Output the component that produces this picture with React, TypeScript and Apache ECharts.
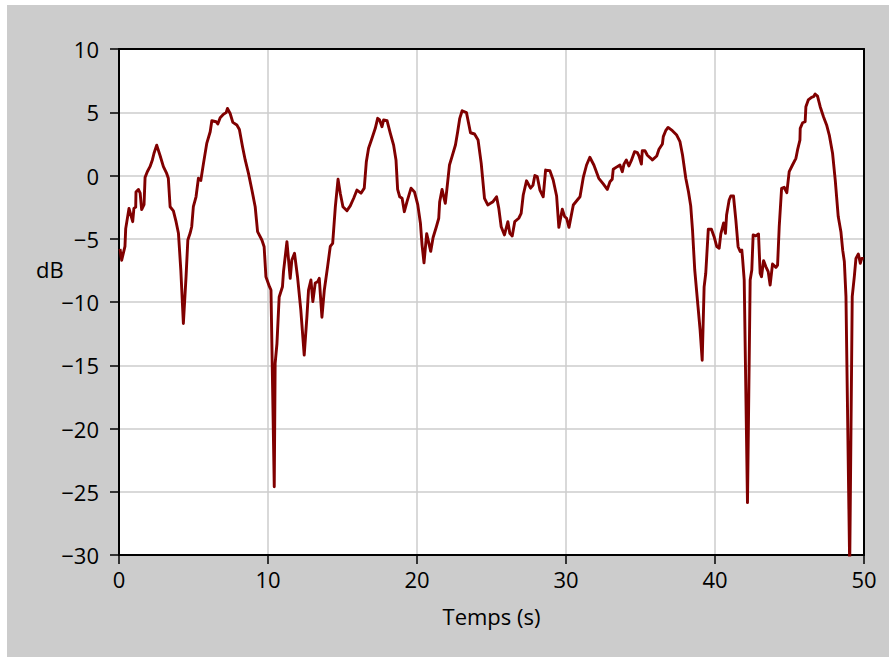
import React, { useEffect, useRef } from "react";
import * as echarts from "echarts";

const times: number[] = [
  0.07, 0.18, 0.4, 0.45, 0.67, 0.92, 1.0, 1.12, 1.14, 1.3, 1.42, 1.52, 1.68, 1.75, 1.9, 2.08, 2.24, 2.35, 2.53, 2.75,
  2.98, 3.2, 3.31, 3.43, 3.65, 3.83, 3.99, 4.15, 4.32, 4.5, 4.62, 4.77, 4.88, 4.99, 5.17, 5.33, 5.49, 5.67, 5.89, 6.12,
  6.23, 6.52, 6.63, 6.79, 7.01, 7.19, 7.28, 7.46, 7.64, 7.91, 8.08, 8.29, 8.47, 8.69, 8.92, 9.14, 9.3, 9.59, 9.74, 9.86,
  10.1, 10.2, 10.42, 10.48, 10.6, 10.75, 10.97, 11.04, 11.27, 11.49, 11.6, 11.78, 11.98, 12.2, 12.43, 12.61, 12.72, 12.88, 13.01, 13.17,
  13.33, 13.44, 13.62, 13.78, 14.0, 14.18, 14.34, 14.52, 14.7, 14.85, 15.03, 15.3, 15.52, 15.75, 15.97, 16.24, 16.46, 16.6, 16.75, 16.98,
  17.2, 17.36, 17.49, 17.65, 17.76, 17.99, 18.21, 18.43, 18.59, 18.7, 18.84, 19.0, 19.15, 19.33, 19.6, 19.83, 20.05, 20.23, 20.34, 20.47,
  20.65, 20.92, 21.08, 21.3, 21.46, 21.52, 21.68, 21.9, 22.0, 22.18, 22.35, 22.58, 22.73, 22.87, 23.03, 23.32, 23.59, 23.86, 24.1, 24.31,
  24.53, 24.75, 24.93, 25.1, 25.34, 25.49, 25.65, 25.87, 26.1, 26.23, 26.39, 26.56, 26.83, 26.99, 27.13, 27.35, 27.62, 27.78, 27.91, 28.07,
  28.25, 28.47, 28.63, 28.92, 29.14, 29.37, 29.52, 29.75, 29.91, 30.04, 30.2, 30.49, 30.76, 30.94, 31.16, 31.38, 31.6, 31.87, 32.2, 32.5,
  32.77, 32.95, 33.1, 33.17, 33.44, 33.62, 33.78, 33.89, 34.05, 34.22, 34.38, 34.6, 34.79, 34.9, 35.06, 35.12, 35.3, 35.46, 35.69, 35.8,
  36.09, 36.24, 36.47, 36.53, 36.69, 36.85, 37.14, 37.43, 37.65, 37.82, 38.04, 38.22, 38.37, 38.49, 38.64, 38.86, 39.0, 39.14, 39.27, 39.38,
  39.55, 39.76, 39.94, 40.12, 40.28, 40.39, 40.58, 40.7, 40.78, 40.95, 41.06, 41.24, 41.4, 41.55, 41.69, 41.8, 41.85, 41.96, 42.18, 42.36,
  42.47, 42.56, 42.74, 42.92, 43.03, 43.12, 43.26, 43.41, 43.57, 43.7, 43.86, 44.09, 44.2, 44.31, 44.47, 44.64, 44.82, 44.98, 45.2, 45.43,
  45.54, 45.7, 45.72, 45.88, 46.05, 46.1, 46.26, 46.48, 46.61, 46.72, 46.88, 47.06, 47.28, 47.49, 47.67, 47.89, 48.07, 48.27, 48.45, 48.57,
  48.68, 48.79, 49.04, 49.21, 49.35, 49.46, 49.62, 49.75, 49.85, 49.98,
];

const dB: number[] = [
  -5.8, -6.7, -5.6, -4.2, -2.6, -3.65, -2.6, -2.5, -1.3, -1.1, -1.4, -2.7, -2.3, -0.15, 0.3, 0.7, 1.23, 1.76, 2.4, 1.6,
  0.7, 0.16, -0.22, -2.47, -2.8, -3.65, -4.57, -7.5, -11.7, -8.0, -5.1, -4.57, -4.05, -2.47, -1.68, -0.22, -0.4, 0.96, 2.54, 3.46,
  4.33, 4.25, 4.07, 4.57, 4.84, 4.97, 5.3, 4.9, 4.2, 3.99, 3.64, 2.28, 1.23, 0.17, -1.15, -2.47, -4.44, -5.1, -5.63, -8.0,
  -8.79, -9.05, -24.6, -14.85, -13.3, -9.6, -8.8, -7.6, -5.23, -8.13, -6.68, -6.15, -8.0, -10.6, -14.2, -11.2, -9.05, -8.26, -9.97, -8.5,
  -8.4, -8.13, -11.2, -9.05, -7.2, -5.6, -5.36, -2.46, -0.3, -1.4, -2.47, -2.78, -2.4, -1.8, -1.15, -1.4, -1.0, 1.09, 2.15, 2.94,
  3.73, 4.52, 4.39, 3.86, 4.39, 4.33, 3.33, 2.4, 1.23, -1.1, -1.68, -1.8, -2.86, -2.07, -1.0, -1.3, -2.3, -3.78, -5.5, -6.9,
  -4.6, -6.0, -4.9, -4.05, -3.38, -2.1, -1.1, -2.2, -1.15, 0.83, 1.49, 2.41, 3.46, 4.52, 5.12, 4.97, 3.38, 3.28, 2.8, 0.96,
  -1.8, -2.33, -2.2, -2.07, -1.68, -2.6, -4.05, -4.7, -3.65, -4.57, -4.78, -3.65, -3.38, -3.0, -1.54, -0.42, -1.0, -0.78, 0.0, -0.08,
  -1.15, -1.68, 0.43, 0.38, -0.36, -1.62, -4.1, -2.67, -3.25, -3.38, -4.1, -2.33, -1.94, -1.68, -0.15, 0.83, 1.44, 0.83, -0.22, -0.67,
  -1.1, -0.5, -0.3, 0.49, 0.7, 0.83, 0.3, 0.9, 1.23, 0.75, 1.17, 1.88, 1.8, 1.54, 0.9, 1.96, 1.96, 1.6, 1.36, 1.23,
  1.54, 2.07, 2.49, 3.07, 3.54, 3.8, 3.54, 3.2, 2.67, 1.62, -0.22, -1.28, -2.4, -4.3, -7.47, -10.37, -12.2, -14.6, -8.8, -7.73,
  -4.25, -4.25, -4.84, -5.62, -5.75, -4.62, -3.75, -4.57, -3.1, -1.94, -1.62, -1.62, -3.52, -5.63, -6.0, -5.9, -6.55, -8.26, -25.86, -8.26,
  -7.47, -4.7, -4.78, -4.62, -7.73, -8.0, -6.73, -7.2, -7.6, -8.66, -7.0, -7.26, -7.08, -4.05, -1.01, -0.93, -1.36, 0.3, 0.83, 1.36,
  2.02, 2.8, 3.73, 4.17, 4.25, 5.44, 5.97, 6.18, 6.23, 6.44, 6.28, 5.44, 4.65, 4.0, 3.2, 1.76, -0.36, -3.25, -4.44, -5.9,
  -6.8, -9.58, -31, -9.58, -8.0, -6.55, -6.2, -6.94, -6.55, -6.55,
];

const xTicks = { min: 0, max: 50, interval: 10 };
const yTicks = { min: -30, max: 10, interval: 5 };
const xName = "Temps (s)";
const yName = "dB";

const FONT = "'Open Sans', 'Noto Sans', sans-serif";

export default function App() {
  const ref = useRef<HTMLDivElement>(null);

  useEffect(() => {
    if (!ref.current) return;
    const chart = echarts.init(ref.current, undefined, { renderer: "svg" });
    const labelStyle = { fontSize: 22, color: "#000", fontFamily: FONT };
    chart.setOption({
      animation: false,
      backgroundColor: "transparent",
      grid: { left: 119, right: 25, top: 49, bottom: 102, containLabel: false },
      xAxis: [
        {
          type: "value",
          position: "bottom",
          min: xTicks.min,
          max: xTicks.max,
          interval: xTicks.interval,
          name: xName,
          nameLocation: "middle",
          nameGap: 50,
          nameTextStyle: { ...labelStyle },
          axisLine: { show: true, onZero: false, lineStyle: { color: "#000", width: 2 } },
          axisTick: { show: true, inside: false, length: 9, lineStyle: { color: "#000", width: 1.5 } },
          axisLabel: { ...labelStyle, margin: 13 },
          splitLine: { show: true, lineStyle: { color: "#cccccc", width: 1.5 } },
        },
        {
          type: "value",
          position: "top",
          min: xTicks.min,
          max: xTicks.max,
          axisLine: { show: true, onZero: false, lineStyle: { color: "#000", width: 2 } },
          axisTick: { show: false },
          axisLabel: { show: false },
          splitLine: { show: false },
        },
      ],
      yAxis: [
        {
          type: "value",
          position: "left",
          min: yTicks.min,
          max: yTicks.max,
          interval: yTicks.interval,
          axisLine: { show: true, onZero: false, lineStyle: { color: "#000", width: 2 } },
          axisTick: { show: true, inside: false, length: 9, lineStyle: { color: "#000", width: 1.5 } },
          axisLabel: {
            ...labelStyle,
            margin: 20,
            formatter: (v: number) => String(v).replace("-", "\u2212"),
          },
          splitLine: { show: true, lineStyle: { color: "#cccccc", width: 1.5 } },
        },
        {
          type: "value",
          position: "right",
          min: yTicks.min,
          max: yTicks.max,
          axisLine: { show: true, onZero: false, lineStyle: { color: "#000", width: 2 } },
          axisTick: { show: false },
          axisLabel: { show: false },
          splitLine: { show: false },
        },
      ],
      graphic: [
        {
          type: "text",
          left: 36,
          top: 258,
          style: { text: yName, fontSize: 22, fill: "#000", fontFamily: FONT },
        },
      ],
      series: [
        {
          type: "line",
          xAxisIndex: 0,
          yAxisIndex: 0,
          data: times.map((t, i) => [t, dB[i]]),
          showSymbol: false,
          symbol: "none",
          clip: true,
          lineStyle: { color: "#800000", width: 2.9, join: "round" },
        },
      ],
    });
    return () => chart.dispose();
  }, []);

  return (
    <div style={{ position: "fixed", left: 0, top: 0, width: 889, height: 657, background: "#fff" }}>
      <div style={{ position: "absolute", left: 7, top: 5, width: 882, height: 652, background: "#cccccc" }} />
      <div
        style={{ position: "absolute", left: 119, top: 49, width: 745, height: 506, background: "#fff" }}
      />
      <div ref={ref} style={{ position: "absolute", left: 0, top: 0, width: 889, height: 657 }} />
    </div>
  );
}
